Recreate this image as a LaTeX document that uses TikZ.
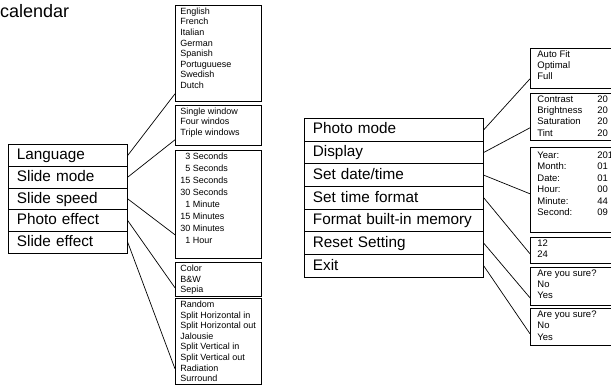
\documentclass[tikz,border=0pt]{standalone}
\usepackage{fontspec}
\setmainfont{Liberation Sans}
\newcommand\popc[3]{\parbox[c][#1][t]{#2}{\rule{0pt}{7pt}#3}}
\newcommand\kv[2]{\makebox[60pt][l]{#1}#2}
\tikzset{
  lmenu/.style={draw, line width=0.8pt, anchor=north west, inner xsep=8.5pt, inner ysep=0pt,
    text width=102pt, minimum height=21.8pt, align=left,
    font=\fontsize{15.3}{17}\selectfont, text height=11pt, text depth=2.5pt},
  rmenu/.style={lmenu, text width=162pt, minimum height=22.7pt},
  popl/.style={draw, line width=0.8pt, anchor=north west, inner xsep=5pt, inner ysep=2pt,
    font=\fontsize{9}{10.6}\selectfont},
  popr/.style={draw, line width=0.8pt, anchor=north west, inner xsep=7pt, inner ysep=2pt,
    font=\fontsize{9.5}{11.3}\selectfont},
  conn/.style={draw, line width=0.7pt}
}
\begin{document}
\begin{tikzpicture}[x=1pt,y=-1pt]
\clip (0,0) rectangle (611,385);
\node[anchor=base west, inner sep=0pt, font=\fontsize{18}{20}\selectfont] (title) at (0,18) {calendar};

% left menu
\node[lmenu] (lang) at (8,144) {Language};
\node[lmenu] (smode) at (8,165.8) {Slide mode};
\node[lmenu] (sspeed) at (8,187.6) {Slide speed};
\node[lmenu] (peff) at (8,209.4) {Photo effect};
\node[lmenu] (seff) at (8,231.2) {Slide effect};

% left popups
\node[popl] (eng) at (175,5) {\popc{92pt}{76pt}{English\\French\\Italian\\German\\Spanish\\Portuguuese\\Swedish\\Dutch}};
\node[popl] (win) at (175,105) {\popc{36pt}{76pt}{Single window\\Four windos\\Triple windows}};
\node[popl, font=\fontsize{9}{12}\selectfont] (spd) at (175,150) {\popc{104pt}{76pt}{\phantom{1}3 Seconds\\\phantom{1}5 Seconds\\15 Seconds\\30 Seconds\\\phantom{1}1 Minute\\15 Minutes\\30 Minutes\\\phantom{1}1 Hour}};
\node[popl] (pho) at (175,262) {\popc{30pt}{76pt}{Color\\B\&W\\Sepia}};
\node[popl] (eff) at (175,298) {\popc{82pt}{76pt}{Random\\Split Horizontal in\\Split Horizontal out\\Jalousie\\Split Vertical in\\Split Vertical out\\Radiation\\Surround}};

\draw[conn] (lang.east) -- ([yshift=8pt]eng.south west);
\draw[conn] (smode.east) -- ([yshift=6pt]win.south west);
\draw[conn] (sspeed.east) -- ([yshift=24pt]spd.south west);
\draw[conn] (peff.east) -- ([yshift=9pt]pho.south west);
\draw[conn] (seff.east) -- ([yshift=16pt]eff.south west);

% right menu
\node[rmenu] (pm) at (304,118) {Photo mode};
\node[rmenu] (disp) at (304,140.7) {Display};
\node[rmenu] (sdt) at (304,163.4) {Set date/time};
\node[rmenu] (stf) at (304,186.1) {Set time format};
\node[rmenu] (fmt) at (304,208.8) {Format built-in memory};
\node[rmenu] (rst) at (304,231.5) {Reset Setting};
\node[rmenu] (ext) at (304,254.2) {Exit};

% right popups
\node[popr] (fit) at (530,48) {\popc{36pt}{86pt}{Auto Fit\\Optimal\\Full}};
\node[popr] (dsp) at (530,93) {\popc{43pt}{86pt}{\kv{Contrast}{20}\\\kv{Brightness}{20}\\\kv{Saturation}{20}\\\kv{Tint}{20}}};
\node[popr, font=\fontsize{9.5}{11.5}\selectfont] (date) at (530,147) {\popc{81pt}{86pt}{\rule{0pt}{9pt}\kv{Year:}{2010}\\\kv{Month:}{01}\\\kv{Date:}{01}\\\kv{Hour:}{00}\\\kv{Minute:}{44}\\\kv{Second:}{09}}};
\node[popr] (tf) at (530,237) {\popc{22pt}{86pt}{12\\24}};
\node[popr] (ays1) at (530,267) {\popc{34pt}{86pt}{Are you sure?\\No\\Yes}};
\node[popr] (ays2) at (530,308) {\popc{33pt}{86pt}{Are you sure?\\No\\Yes}};

\draw[conn] (pm.east) -- ([yshift=10pt]fit.south west);
\draw[conn] (disp.east) -- ([yshift=13pt]dsp.south west);
\draw[conn] (sdt.east) -- ([yshift=39pt]date.south west);
\draw[conn] (stf.east) -- ([yshift=10pt]tf.south west);
\draw[conn] (rst.east) -- ([yshift=8pt]ays1.south west);
\draw[conn] (ext.east) -- ([yshift=12pt]ays2.south west);
\end{tikzpicture}
\end{document}
